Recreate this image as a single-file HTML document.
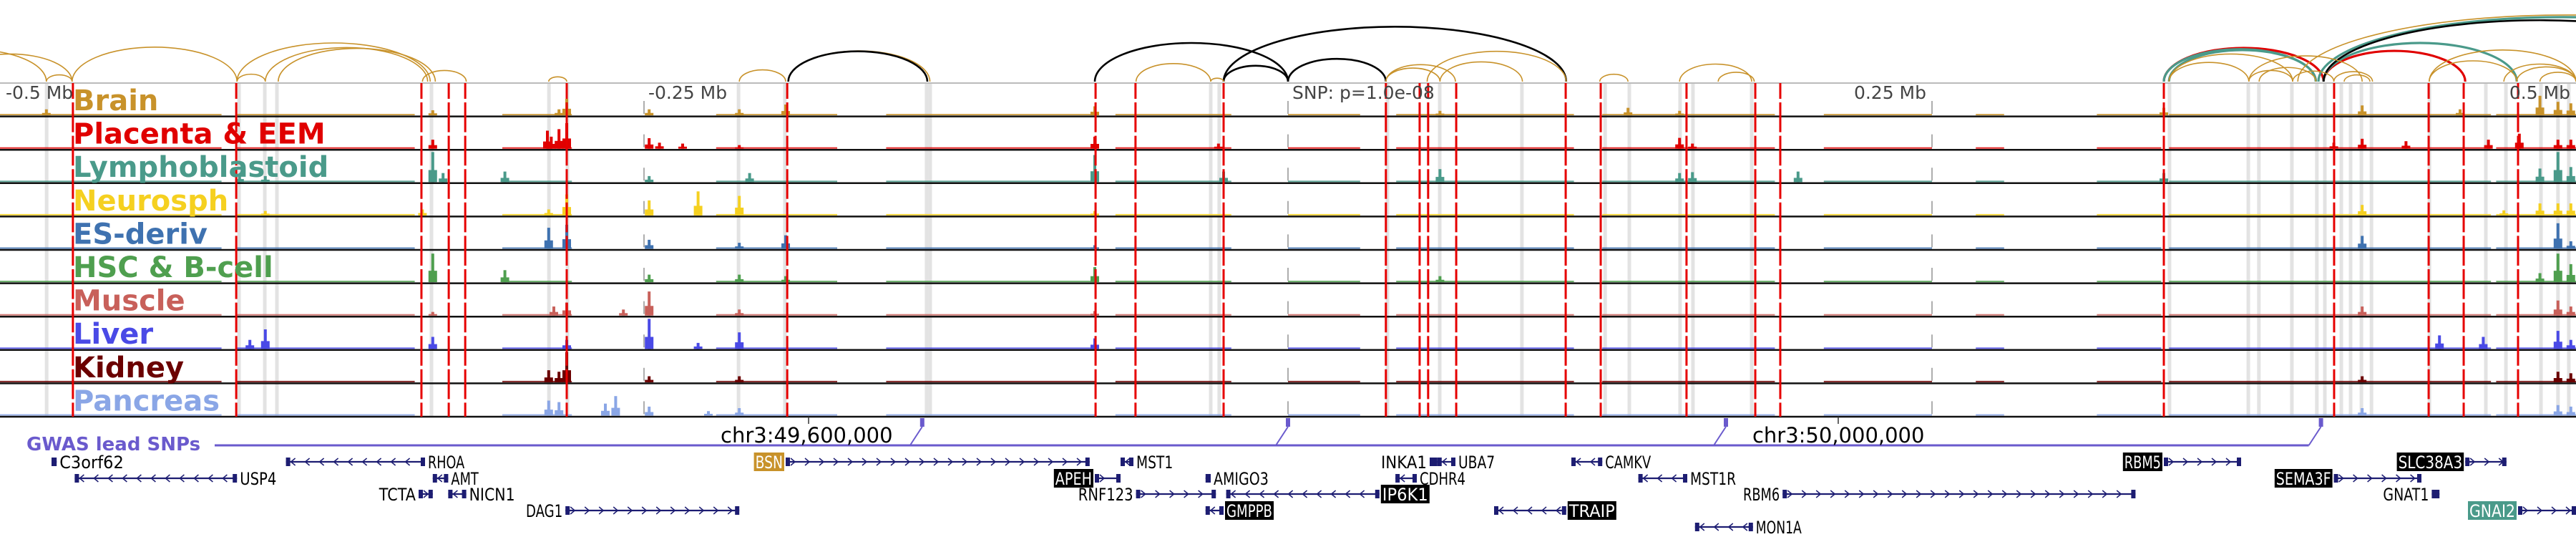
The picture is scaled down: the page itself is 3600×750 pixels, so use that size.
<!DOCTYPE html>
<html><head><meta charset="utf-8"><style>
html,body{margin:0;padding:0;background:#fff;width:3600px;height:750px;overflow:hidden}
svg{display:block}
text{font-family:"DejaVu Sans","Liberation Sans",sans-serif}
</style></head><body>
<svg id="chart" width="3600" height="750" viewBox="0 0 3600 750" xmlns="http://www.w3.org/2000/svg">
<g id="arcs"></g>
<g id="bands"></g>
<g id="tracks"></g>
<g id="redlines"></g>
<g id="labels"></g>
<g id="axis"></g>
<g id="gwas"></g>
<g id="genes"></g>
</svg>
<script>
// ---- data (genomic positions in kb relative to lead SNP) ----
const axisTicksKb = [-500, -250, 0, 250, 500];
const axisTickLabels = ["-0.5 Mb", "-0.25 Mb", "SNP: p=1.0e-08", "0.25 Mb", "0.5 Mb"];
const trackNames = ["Brain","Placenta & EEM","Lymphoblastoid","Neurosph","ES-deriv","HSC & B-cell","Muscle","Liver","Kidney","Pancreas"];
const trackColors = ["#c8922a","#e00000","#4a9a8a","#f5d020","#3f72b0","#4f9f4f","#c8605a","#4a4ae6","#6b0000","#8aa6e6"];
const redLinesKb = [-471.7,-408.3,-336.4,-325.8,-319.4,-280,-194.4,-74.7,-59.2,-25,38,51.1,54.4,65.3,107.8,121.4,154.7,181.4,191.1,340,406.1,442.8,456.4,477.5];
const bandsKb = [-481.9,-407.2,-397.2,-392.5,-332.5,-286.9,-279.7,-213.3,-195.3,-140.3,-138.9,-30,-26.7,38.6,58.9,90.8,123.1,132.5,152.2,157.2,180,342.2,372.8,376.9,389.7,399.4,402.5,408.9,412.5,416.7,420.6,443.1,465,472.8,486.4,493,497.2];
const coverageKb = [[-500,-472],[-472,-414],[-408,-339],[-305,-278],[-222,-175],[-156,-75],[-67,-22],[0,28],[42,111],[122,189],[208,250],[267,278],[314,339],[342,467],[469,500]];
const peaksBrain = [[-482,.2],[-332,.17],[-283,.2],[-280,.55],[-248,.2],[-213,.2],[-195,.36],[-75,.3],[59,.15],[132,.25],[152,.15],[340,.25],[417,.33],[455,.2],[486,.65],[493,.45],[498,.4]];
const peaksPlacenta = [[-332,.3],[-287.5,.6],[-286,.4],[-283,.65],[-280,.85],[-248,.35],[-244,.2],[-235,.17],[-213,.12],[-75,.4],[-27,.17],[152,.36],[157,.17],[406,.2],[417,.33],[434,.25],[466,.3],[478,.5],[493,.3],[498,.3]];
const peaksLympho = [[-407,.25],[-397,.2],[-332,1.0],[-328,.3],[-304,.35],[-248,.2],[-209,.3],[-75,.9],[-25,.35],[59,.43],[152,.3],[157,.33],[198,.35],[340,.3],[486,.45],[493,1.0],[498,.5]];
const peaksNeuro = [[-397,.15],[-336,.2],[-287,.2],[-280,.7],[-248,.5],[-229,.8],[-213,.65],[-75,.15],[417,.35],[472,.17],[486,.4],[493,.4],[498,.4]];
const peaksES = [[-287,.7],[-280,.8],[-248,.3],[-213,.2],[-195,.45],[-75,.12],[417,.43],[493,.85],[498,.25]];
const peaksHSC = [[-332,.95],[-304,.4],[-248,.25],[-213,.25],[-195,.2],[-75,.5],[59,.2],[486,.3],[493,.95],[498,.6]];
const peaksMuscle = [[-332,.12],[-285,.3],[-280,.43],[-258,.2],[-248,.8],[-213,.2],[-75,.15],[417,.3],[493,.5],[498,.3]];
const peaksLiver = [[-403,.3],[-397,.65],[-332,.4],[-280,.3],[-248,1.0],[-229,.2],[-213,.55],[-75,.35],[447,.45],[464,.4],[493,.6],[498,.3]];
const peaksKidney = [[-287,.4],[-283,.35],[-280,1.0],[-248,.2],[-213,.2],[417,.2],[493,.35],[498,.3]];
const peaksPancreas = [[-287,.5],[-283,.45],[-265,.4],[-261,.65],[-248,.3],[-225,.15],[-213,.25],[417,.25],[493,.35],[498,.3]];
const trackPeaks = [peaksBrain,peaksPlacenta,peaksLympho,peaksNeuro,peaksES,peaksHSC,peaksMuscle,peaksLiver,peaksKidney,peaksPancreas];
const arcStarts = [-540,-520,-482,-472,-408,-408,-397,-392,-336,-287,-213,-194,-194,-75,-25,0,-25,-59,-30,38,38,59,54,121,152,167,340,402,340,342,402,400,402,392,342,342,373,377,390,406,410,443,443,472,477,486,373];
const arcEnds   = [-482,-472,-472,-408,-397,-333,-334,-331,-319,-280,-195,-139,-140,0,0,38,108,-30,-25,59,65,91,108,132,180,181,402,457,399,399,477,590,570,600,373,390,390,399,406,421,420,477,500,500,500,500,417];
const arcKinds  = ["g","g","g","g","g","g","g","g","g","g","g","g","k","k","k","k","k","g","g","g","g","g","g","g","g","g","r","r","t","t","t","t","k","g","g","g","g","g","g","g","g","g","g","g","g","g","g"];
const snpKb = [-142, 0, 170, 401];
const chrTicksKb = [-186.1, 213.6];
const chrTickLabels = ["chr3:49,600,000", "chr3:50,000,000"];
const geneNames = ["C3orf62","USP4","RHOA","AMT","TCTA","NICN1","DAG1","BSN","APEH","MST1","RNF123","AMIGO3","IP6K1","GMPPB","INKA1","UBA7","CDHR4","CAMKV","TRAIP","MST1R","RBM6","MON1A","RBM5","SEMA3F","SLC38A3","GNAT1","GNAI2"];
const geneStart = [-480,-471,-389,-332,-337.5,-326,-280.5,-195,-75,-65,-59,-32,-24,-32,55,58,41.7,110,80,136,192,158,340,406,457,444,477.5];
const geneEnd   = [-478,-408,-335,-326,-332,-319,-213,-77,-65,-60,-28,-30,35.5,-25,58,65,50,122,108,155,329,180.5,370,440,473,447,520];
const geneRow   = [0,1,0,1,2,2,3,0,1,0,2,1,2,3,0,0,1,0,3,1,2,4,0,1,0,2,3];
const geneStrand= ["-","-","-","-","+","-","+","+","+","-","+","-","-","-","-","-","-","-","-","-","+","-","+","+","+","+","+"];
const geneLabelSide = ["r","r","r","r","l","r","l","l","l","r","l","r","r","r","l","r","r","r","r","r","l","r","l","l","l","l","l"];
const geneStyle = ["n","n","n","n","n","n","n","gold","blk","n","n","n","blk","blk","n","n","n","n","blk","n","n","n","blk","blk","blk","n","teal"];

// ---- scales ----
const X = kb => 1800 + kb * 3.6;
const TOP = 116, TH = 46.6;
const trackBottom = i => TOP + TH * (i + 1);
const NS = "http://www.w3.org/2000/svg";
function mk(tag, attrs, parent){ const e=document.createElementNS(NS,tag); for(const k in attrs) e.setAttribute(k,attrs[k]); parent.appendChild(e); return e; }
const arcColor = {g:"#c8922a", k:"#000", r:"#e00000", t:"#4a9a8a"};
const arcWidth = {g:1.6, k:2.6, r:3.2, t:3.2};

// arcs
const gA = document.getElementById('arcs');
arcStarts.forEach((s,i)=>{
  const x1=X(s), x2=X(arcEnds[i]); const span=x2-x1; const h=110*(1-Math.exp(-span/400));
  const p = mk('path',{d:`M${x1} 114 A${span/2} ${h} 0 0 1 ${x2} 114`, fill:'none', stroke:arcColor[arcKinds[i]], 'stroke-width':arcWidth[arcKinds[i]]}, gA);
  
  
});

// bands
const gB = document.getElementById('bands');
bandsKb.forEach(b=>{
  const r = mk('rect',{x:X(b)-2.5, y:TOP, width:5, height:TH*10, fill:'#e3e3e3'}, gB);
  
  
});
[-250,0,250].forEach(t=>{
  const l = mk('line',{x1:X(t),x2:X(t),y1:141,y2:trackBottom(9),stroke:'#777','stroke-width':1.2,'stroke-dasharray':'18 28.6'}, gB);
  
  
});

// tracks
const gT = document.getElementById('tracks');
trackPeaks.forEach((peaks,i)=>{
  const base = trackBottom(i) - 1.5, col = trackColors[i];
  const g = mk('g',{}, gT);
  
  
  coverageKb.forEach(c=>{
    const r = mk('rect',{x:X(c[0]), y:base-2, width:X(c[1])-X(c[0]), height:2, fill:col, 'fill-opacity':0.85}, g);
    
    
  });
  peaks.forEach(p=>{
    const h = p[1]*42;
    const r = mk('rect',{x:X(p[0])-2, y:base-h, width:4, height:h, fill:col}, g);
    
    
    const r2 = mk('rect',{x:X(p[0])-6, y:base-h*0.4, width:12, height:h*0.4, fill:col}, g);
    
    
  });
  const ln = mk('line',{x1:0,x2:3600,y1:trackBottom(i),y2:trackBottom(i),stroke:'#111','stroke-width':2.5}, g);
  
  
});
const topLine = mk('line',{x1:0,x2:3600,y1:TOP,y2:TOP,stroke:'#bbb','stroke-width':2}, gT);



// red snp lines
const gR = document.getElementById('redlines');
redLinesKb.forEach(r=>{
  const l = mk('line',{x1:X(r),x2:X(r),y1:TOP,y2:trackBottom(9),stroke:'#e60000','stroke-width':3,'stroke-dasharray':'22 5 19.6 0'}, gR);
  
  
});

// axis labels
const gX = document.getElementById('axis');
axisTicksKb.forEach((t,i)=>{
  const right = t > 0;
  const tx = mk('text',{x: t===-500 ? 8 : (right ? X(t)-8 : X(t)+6), y:138, 'font-size':25, fill:'#444', 'text-anchor': right?'end':'start'}, gX);
  tx.textContent = axisTickLabels[i];
  
  
});

// track labels
const gL = document.getElementById('labels');
trackNames.forEach((n,i)=>{
  const t = mk('text',{x:102, y:TOP+TH*i+38, 'font-size':40, 'font-weight':'bold', fill:trackColors[i]}, gL);
  t.textContent = n;
  
  
});

// gwas
const gG = document.getElementById('gwas');
const gl = mk('text',{x:37,y:629,'font-size':26,'font-weight':'bold',fill:'#6a5acd'}, gG);
gl.textContent = 'GWAS lead SNPs';


const gline = mk('line',{x1:300,x2:X(snpKb[snpKb.length-1])-17,y1:622,y2:622,stroke:'#6a5acd','stroke-width':3}, gG);


snpKb.forEach(s=>{
  const r = mk('rect',{x:X(s)-3,y:584,width:6,height:12,fill:'#6a5acd'}, gG);
  
  
  const d = mk('line',{x1:X(s),y1:596,x2:X(s)-17,y2:622,stroke:'#6a5acd','stroke-width':2}, gG);
  
  
});
chrTicksKb.forEach((c,i)=>{
  const l = mk('line',{x1:X(c),x2:X(c),y1:582,y2:592,stroke:'#333','stroke-width':1.5}, gG);
  
  
  const t = mk('text',{x:X(c)-123+i*3, y:618,'font-size':29,fill:'#000'}, gG);
  t.textContent = chrTickLabels[i];
  
  
});

// genes
const gN = document.getElementById('genes');
const rowY = [645,668,690,713,736];
const navy = '#1d1d72';
geneNames.forEach((n,i)=>{
  const x1 = X(geneStart[i]), x2 = Math.min(X(geneEnd[i]), 3600), y = rowY[geneRow[i]];
  const g = mk('g',{}, gN);
  
  
  mk('line',{x1:x1,x2:x2,y1:y,y2:y,stroke:navy,'stroke-width':2.2}, g);
  for(let cx=x1+10; cx<x2-6; cx+=20){
    const d = geneStrand[i]==='+' ? `M${cx-3} ${y-5} L${cx+3} ${y} L${cx-3} ${y+5}` : `M${cx+3} ${y-5} L${cx-3} ${y} L${cx+3} ${y+5}`;
    mk('path',{d:d,fill:'none',stroke:navy,'stroke-width':1.5}, g);
  }
  mk('rect',{x:x1,y:y-6,width:Math.min(6,x2-x1),height:12,fill:navy}, g);
  mk('rect',{x:Math.max(x1,x2-6),y:y-6,width:Math.min(6,x2-x1),height:12,fill:navy}, g);
  const st = geneStyle[i];
  const fs = 24, w = n.length*12.8;
  const lx = geneLabelSide[i]==='r' ? x2+4 : x1-4-w;
  if(st!=='n'){
    mk('rect',{x:lx-2,y:y-13,width:w+4,height:26,fill: st==='gold'?'#c8922a': st==='teal'?'#4a9a8a':'#000'}, g);
  }
  const t = mk('text',{x:lx,y:y+9,'font-size':fs,fill: st==='n'?'#000':'#fff',textLength:w,lengthAdjust:'spacingAndGlyphs'}, g);
  t.textContent = n;
});
</script>
</body></html>
